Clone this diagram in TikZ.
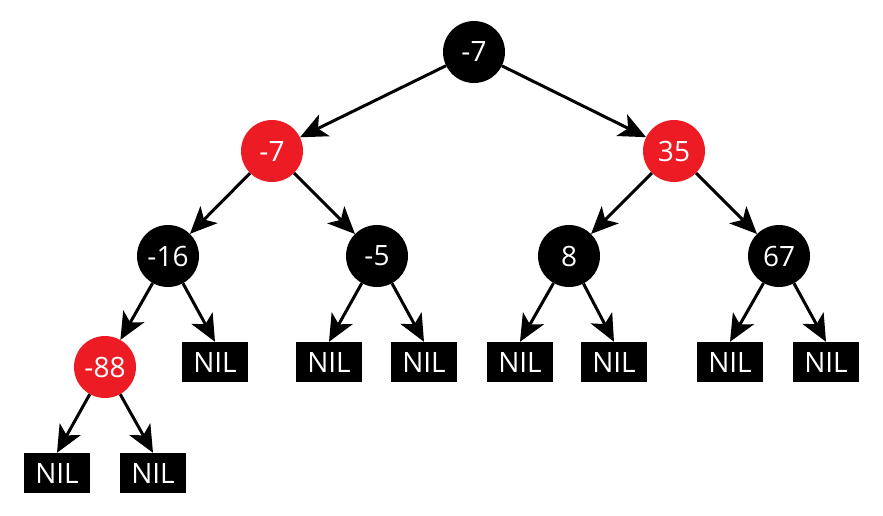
\documentclass[tikz,border=0pt]{standalone}
\usepackage{fontspec}
\setmainfont{Open Sans}
\usetikzlibrary{arrows.meta}
\definecolor{rbred}{HTML}{ED1C24}
\begin{document}
\begin{tikzpicture}[x=1pt,y=-1pt,
  rb/.style={circle,minimum size=62pt,inner sep=0pt,text=white,font=\fontsize{28}{30}\selectfont},
  blk/.style={rb,fill=black},
  red/.style={rb,fill=rbred},
  nil/.style={rectangle,fill=black,minimum width=66pt,minimum height=40pt,inner sep=0pt,text=white,font=\fontsize{28}{30}\selectfont},
  edge/.style={line width=3pt,-{Stealth[length=27pt,width=24pt,inset=7pt]}}]
\useasboundingbox (0,0) rectangle (883,515);
\node[blk] (r) at (474,52) {-7};
\node[red] (a) at (272,151) {-7};
\node[red] (b) at (674,151) {35};
\node[blk] (c) at (168,256) {-16};
\node[blk] (d) at (377,256) {-5};
\node[blk] (e) at (569,256) {8};
\node[blk] (f) at (779,256) {67};
\node[red] (g) at (105,367) {-88};
\node[nil] (n1) at (215,362) {NIL};
\node[nil] (n2) at (329,362) {NIL};
\node[nil] (n3) at (424,362) {NIL};
\node[nil] (n4) at (520,362) {NIL};
\node[nil] (n5) at (614,362) {NIL};
\node[nil] (n6) at (730,362) {NIL};
\node[nil] (n7) at (826,362) {NIL};
\node[nil] (n8) at (57,473) {NIL};
\node[nil] (n9) at (153,473) {NIL};
\draw[edge] (r) -- (a);
\draw[edge] (r) -- (b);
\draw[edge] (a) -- (c);
\draw[edge] (a) -- (d);
\draw[edge] (b) -- (e);
\draw[edge] (b) -- (f);
\draw[edge] (c) -- (g);
\draw[edge] (c) -- (n1.north);
\draw[edge] (d) -- (n2.north);
\draw[edge] (d) -- (n3.north);
\draw[edge] (e) -- (n4.north);
\draw[edge] (e) -- (n5.north);
\draw[edge] (f) -- (n6.north);
\draw[edge] (f) -- (n7.north);
\draw[edge] (g) -- (n8.north);
\draw[edge] (g) -- (n9.north);
\end{tikzpicture}
\end{document}
